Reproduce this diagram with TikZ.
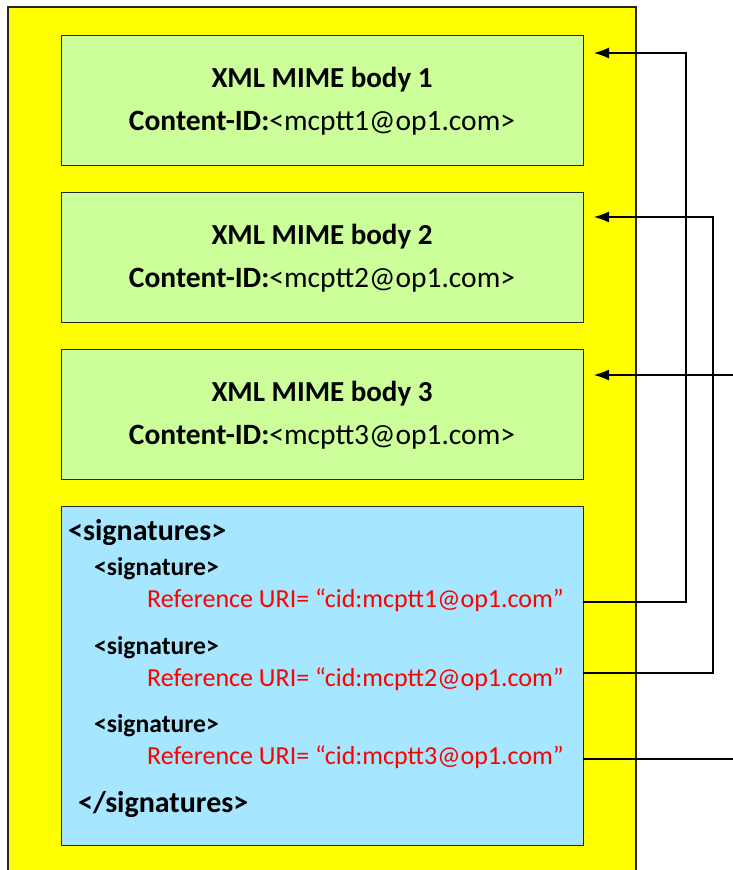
\documentclass[tikz,border=0pt]{standalone}
\usepackage{fontspec}
\setmainfont{Carlito}
\usetikzlibrary{calc,positioning,arrows.meta}
\definecolor{msgyellow}{RGB}{255,255,0}
\definecolor{bodygreen}{RGB}{204,255,153}
\definecolor{sigblue}{RGB}{166,230,255}
\definecolor{refred}{RGB}{255,0,0}
\tikzset{%
  >={Latex[length=15pt,width=11pt]}, % filled arrow heads
  body box/.style={draw=black!85,fill=bodygreen,line width=1pt,
    minimum width=522pt,minimum height=130pt,inner sep=0pt,outer sep=0pt},
  sig box/.style={draw=black!85,fill=sigblue,line width=1pt,
    minimum width=522pt,minimum height=339pt,inner sep=0pt,outer sep=0pt},
  title text/.style={anchor=base,inner sep=0pt,
    font=\fontsize{29}{35}\selectfont\bfseries},
  id text/.style={anchor=base,inner sep=0pt,font=\fontsize{29.5}{35}\selectfont},
  outer tag/.style={anchor=base west,inner sep=0pt,
    font=\fontsize{30}{36}\selectfont\bfseries},
  tag text/.style={anchor=base west,inner sep=0pt,
    font=\fontsize{25.6}{30}\selectfont\bfseries},
  ref text/.style={anchor=base west,inner sep=0pt,text=refred,
    font=\fontsize{26}{31}\selectfont},
  link/.style={line width=1.2pt,black}
}
\begin{document}
\begin{tikzpicture}[x=1pt,y=-1pt]

\useasboundingbox (0,0) rectangle (733,870);
\clip (0,0) rectangle (733,870);
% multipart message
\draw[fill=msgyellow,draw=black!85,line width=1.2pt] (8,7) rectangle (636,890);
% xml mime bodies
\foreach \i in {1,2,3}{
  \pgfmathsetmacro\bodyY{35+157*(\i-1)}
  \node[body box,anchor=north west] (body\i) at (61,\bodyY) {};
  \node[title text] (title\i) at ($(body\i.north)+(0,52)$) {XML MIME body \i};
  \node[id text] (cid\i) at ($(body\i.north)+(0,95)$)
    {\textbf{Content-ID:}<mcptt{\i}@op1.com>};
}
% signatures
\node[sig box,anchor=north west] (sigs) at (61,506) {};
\node[outer tag] (sigsopen) at (68,540) {<signatures>};
\foreach \i/\y in {1/575,2/654,3/732}{
  \node[tag text] (sig\i) at (94,\y) {<signature>};
  \node[ref text] (ref\i) at (147,\y+32) {Reference URI= “cid:mcptt{\i}@op1.com”};
}
\node[outer tag] (sigsclose) at (78,812) {</signatures>};
% references
\foreach \i/\ya/\yb/\xv in {1/53/602/686,2/217/673/713,3/375/759/745}{
  \coordinate (in\i) at ($(body\i.east)+(11,\ya)-(0,{35+157*(\i-1)+65})$);
  \coordinate (out\i) at ($(sigs.east)+(0,\yb-675.5)$);
  \draw[link,<-] (in\i) -- (\xv,\ya) |- (out\i);
}

\end{tikzpicture}
\end{document}
